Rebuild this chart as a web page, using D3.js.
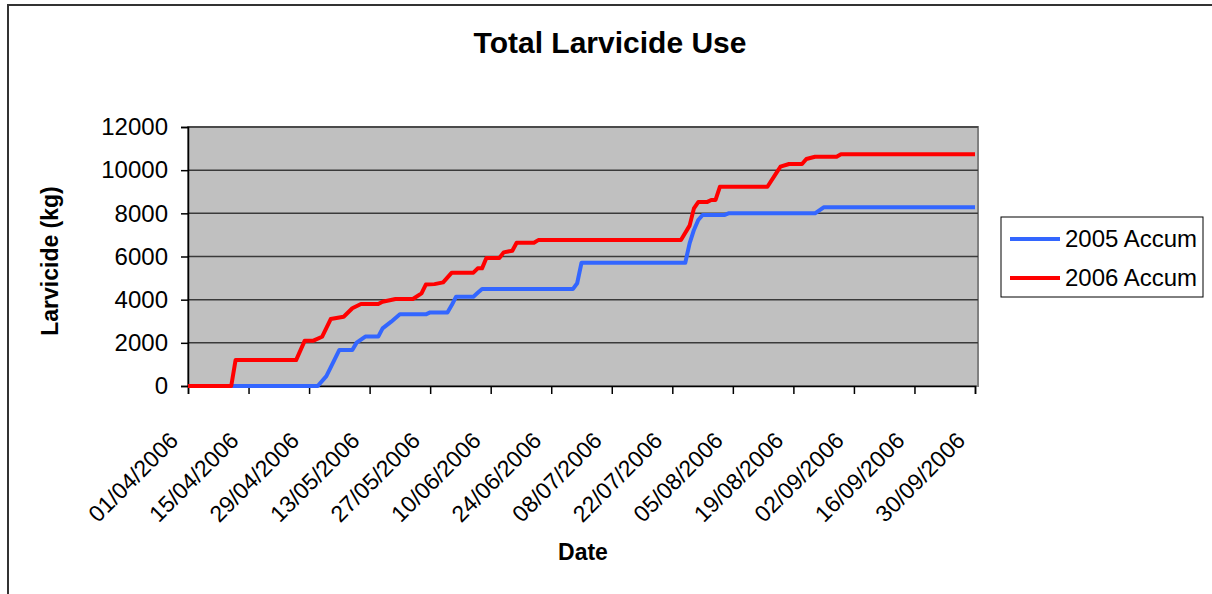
<!DOCTYPE html>
<html>
<head>
<meta charset="utf-8">
<script src="https://cdn.jsdelivr.net/npm/d3@7"></script>
<style>
  body { margin: 0; background: #fff; }
  text { font-family: "Liberation Sans", Arial, sans-serif; fill: #000; }
</style>
</head>
<body>
<script>
const width = 1212;
const height = 594;

// data (dd/mm, 2006 axis)
const dates2005 = ["01/04", "01/05", "03/05", "06/05", "09/05", "10/05", "12/05", "15/05", "16/05", "18/05",
  "20/05", "26/05", "27/05", "31/05", "01/06", "02/06", "06/06", "07/06", "08/06", "29/06",
  "30/06", "01/07", "25/07", "26/07", "27/07", "28/07", "29/07", "03/08", "04/08", "24/08",
  "26/08", "30/09"];
const values2005 = [0, 0, 460, 1670, 1670, 2010, 2290, 2290, 2670, 2980,
  3320, 3320, 3410, 3410, 3750, 4140, 4140, 4320, 4490, 4490,
  4760, 5710, 5710, 6610, 7230, 7690, 7920, 7920, 8000, 8000,
  8280, 8280];

const dates2006 = ["01/04", "11/04", "12/04", "26/04", "28/04", "30/04", "02/05", "04/05", "07/05", "09/05",
  "11/05", "15/05", "16/05", "19/05", "23/05", "25/05", "26/05", "28/05", "30/05", "01/06",
  "06/06", "07/06", "08/06", "09/06", "12/06", "13/06", "15/06", "16/06", "20/06", "21/06",
  "24/07", "26/07", "27/07", "28/07", "30/07", "31/07", "01/08", "02/08", "13/08", "15/08",
  "16/08", "18/08", "21/08", "22/08", "24/08", "29/08", "30/08", "30/09"];
const values2006 = [0, 0, 1200, 1200, 2100, 2100, 2280, 3100, 3210, 3600,
  3800, 3800, 3900, 4030, 4030, 4290, 4700, 4720, 4800, 5250,
  5250, 5450, 5450, 5930, 5930, 6190, 6270, 6640, 6640, 6760,
  6760, 7430, 8230, 8520, 8520, 8620, 8620, 9230, 9230, 9850,
  10160, 10285, 10285, 10520, 10620, 10620, 10735, 10735];

const seriesNames = ["2005 Accum", "2006 Accum"];
const seriesColors = ["#3366ff", "#ff0000"];

const xTickLabels = ["01/04/2006", "15/04/2006", "29/04/2006", "13/05/2006", "27/05/2006", "10/06/2006",
  "24/06/2006", "08/07/2006", "22/07/2006", "05/08/2006", "19/08/2006", "02/09/2006",
  "16/09/2006", "30/09/2006"];
const yTicks = [0, 2000, 4000, 6000, 8000, 10000, 12000];

const parse = d3.timeParse("%d/%m/%Y");
const toSeries = (dates, values) => dates.map((d, i) => ({ date: parse(d + "/2006"), value: values[i] }));
const series = [toSeries(dates2005, values2005), toSeries(dates2006, values2006)];
const xTickDates = xTickLabels.map(parse);

const plot = { left: 188, right: 978, top: 127, bottom: 386 };

const svg = d3.select("body")
  .append("svg")
  .attr("width", width)
  .attr("height", height);

// outer chart border
svg.append("rect")
  .attr("x", 8)
  .attr("y", 5)
  .attr("width", 1400)
  .attr("height", 800)
  .attr("fill", "#fff")
  .attr("stroke", "#333")
  .attr("stroke-width", 2);

const x = d3.scaleTime()
  .domain([xTickDates[0], xTickDates[xTickDates.length - 1]])
  .range([plot.left, 975]);

const y = d3.scaleLinear()
  .domain([0, 12000])
  .range([plot.bottom, plot.top]);

// plot area
svg.append("rect")
  .attr("x", plot.left)
  .attr("y", plot.top)
  .attr("width", plot.right - plot.left)
  .attr("height", plot.bottom - plot.top)
  .attr("fill", "#c0c0c0")
  .attr("stroke", "#808080")
  .attr("stroke-width", 2);

// gridlines
svg.append("g")
  .selectAll("line")
  .data(yTicks.filter(v => v > 0))
  .enter()
  .append("line")
  .attr("x1", plot.left)
  .attr("x2", plot.right)
  .attr("y1", d => y(d))
  .attr("y2", d => y(d))
  .attr("stroke", "#3a3a3a")
  .attr("stroke-width", 1.5);

// y axis
const yAxis = d3.axisLeft(y)
  .tickValues(yTicks)
  .tickSize(7)
  .tickPadding(13)
  .tickFormat(d3.format("d"));

svg.append("g")
  .attr("transform", `translate(${plot.left}, 0)`)
  .call(yAxis)
  .call(g => g.selectAll("text").attr("font-size", 24).attr("font-family", "Liberation Sans, Arial, sans-serif"))
  .call(g => g.selectAll("line, path").attr("stroke", "#000").attr("stroke-width", 1.5));

// x axis
const xAxis = d3.axisBottom(x)
  .tickValues(xTickDates)
  .tickSize(8)
  .tickFormat((d, i) => xTickLabels[i]);

svg.append("g")
  .attr("transform", `translate(0, ${plot.bottom})`)
  .call(xAxis)
  .call(g => g.selectAll("line, path").attr("stroke", "#000").attr("stroke-width", 1.5))
  .call(g => g.selectAll("text")
    .attr("font-size", 23)
    .attr("font-family", "Liberation Sans, Arial, sans-serif")
    .attr("text-anchor", "end")
    .attr("dy", 0)
    .attr("y", 0)
    .attr("transform", "translate(-9, 56) rotate(-45)"));

// lines
const line = d3.line()
  .x(d => x(d.date))
  .y(d => y(d.value));

svg.append("g")
  .selectAll("path")
  .data(series)
  .enter()
  .append("path")
  .attr("d", line)
  .attr("fill", "none")
  .attr("stroke", (d, i) => seriesColors[i])
  .attr("stroke-width", 4)
  .attr("stroke-linejoin", "round");

// titles
svg.append("text")
  .attr("x", 610)
  .attr("y", 53)
  .attr("text-anchor", "middle")
  .attr("font-size", 30)
  .attr("font-weight", "bold")
  .text("Total Larvicide Use");

svg.append("text")
  .attr("transform", "translate(58, 261) rotate(-90)")
  .attr("text-anchor", "middle")
  .attr("font-size", 23)
  .attr("font-weight", "bold")
  .text("Larvicide (kg)");

svg.append("text")
  .attr("x", 583)
  .attr("y", 560)
  .attr("text-anchor", "middle")
  .attr("font-size", 23)
  .attr("font-weight", "bold")
  .text("Date");

// legend
const legend = svg.append("g")
  .attr("transform", "translate(1001, 217)");

legend.append("rect")
  .attr("width", 202)
  .attr("height", 80)
  .attr("fill", "#fff")
  .attr("stroke", "#000")
  .attr("stroke-width", 1);

const items = legend.selectAll(".item")
  .data(seriesNames)
  .enter()
  .append("g")
  .attr("class", "item")
  .attr("transform", (d, i) => `translate(0, ${22 + i * 39})`);

items.append("line")
  .attr("x1", 9)
  .attr("x2", 59)
  .attr("stroke", (d, i) => seriesColors[i])
  .attr("stroke-width", 4);

items.append("text")
  .attr("x", 64)
  .attr("y", 8)
  .attr("font-size", 24)
  .text(d => d);
</script>
</body>
</html>
